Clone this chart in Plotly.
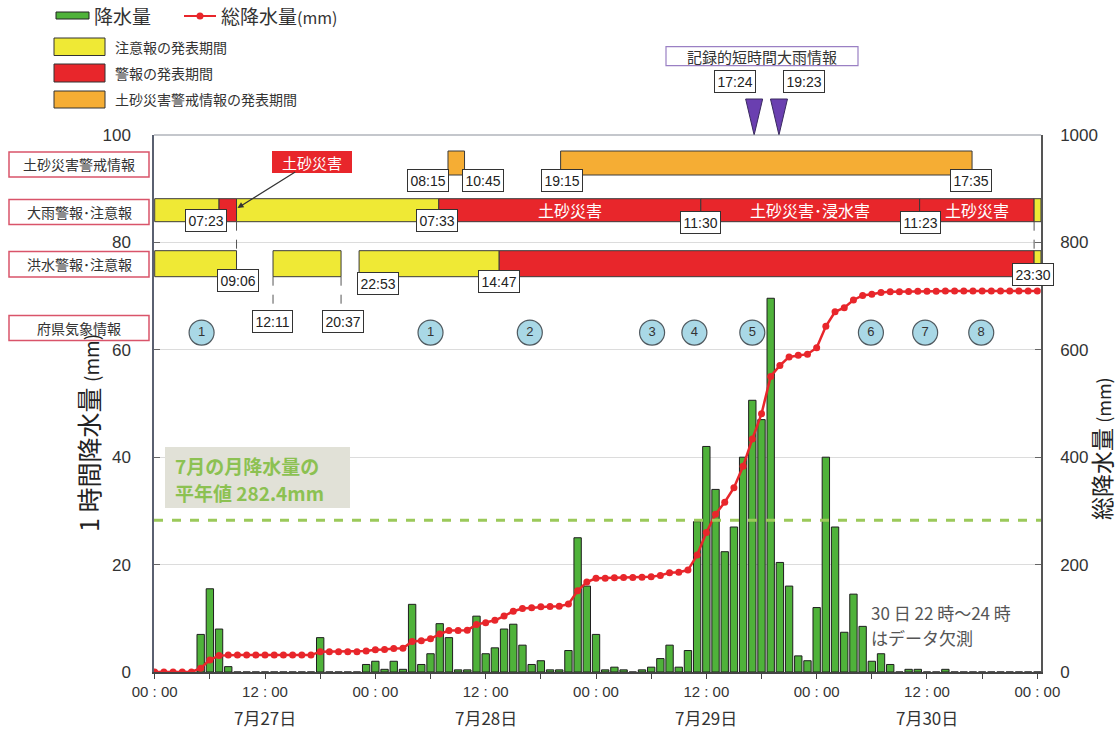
import plotly.graph_objects as go

# ---------------- data ----------------
hours = list(range(97))  # 0 = 7/27 00:00 ... 96 = 7/31 00:00
rain = [0, 0, 0, 0, 0, 7.0, 15.5, 8.0, 1.0,
        0, 0, 0, 0, 0, 0, 0, 0, 0, 6.4, 0, 0, 0, 0,
        1.4, 2.0, 0.5, 2.0, 0.5, 12.6, 1.4, 3.4, 9.0, 6.4, 0.4, 0.4,
        10.4, 3.4, 4.5, 8.0, 8.9, 5.0, 1.4, 2.1, 0.4, 0.4, 4.0, 25.0, 16.0, 7.0,
        0.4, 0.9, 0.4, 0, 0.4, 0.9, 2.5, 5.0, 0.9, 4.0, 28.0, 42.0, 34.0, 22.4,
        27.0, 40.0, 50.6, 47.0, 69.6, 20.4, 16.0, 3.0, 2.1, 12.0, 40.0, 27.0, 7.4,
        14.5, 8.5, 2.0, 3.4, 1.4, 0, 0.5, 0.5, 0, 0, 0.5,
        0, 0, 0, 0, 0, 0, 0, 0, 0, 0]
cum = [0, 0, 0, 0, 0, 7.0, 22.5, 30.5, 31.5,
       31.5, 31.5, 31.5, 31.5, 31.5, 31.5, 31.5, 31.5, 31.5, 37.9, 37.9, 37.9, 37.9, 37.9,
       39.3, 41.3, 41.8, 43.8, 44.3, 56.9, 58.3, 61.7, 70.7, 77.1, 77.5, 77.9,
       88.3, 91.7, 96.2, 104.2, 113.1, 118.1, 119.5, 121.6, 122.0, 122.4, 126.4, 151.4, 167.4, 174.4,
       174.8, 175.7, 176.1, 176.1, 176.5, 177.4, 179.9, 184.9, 185.8, 189.8, 217.8, 259.8, 293.8, 316.2,
       343.2, 383.2, 433.8, 480.8, 550.4, 570.8, 586.8, 589.8, 591.9, 603.9, 643.9, 670.9, 678.3,
       692.8, 701.3, 703.3, 706.7, 708.1, 708.1, 708.6, 709.1, 709.1, 709.1, 709.6,
       709.6, 709.6, 709.6, 709.6, 709.6, 709.6, 709.6, 709.6, 709.6, 709.6]
monthly_normal = 282.4

tick_hours = [0, 6, 12, 18, 24, 30, 36, 42, 48, 54, 60, 66, 72, 78, 84, 90, 96]
tick_text = ['00 : 00', '', '12 : 00', '', '00 : 00', '', '12 : 00', '', '00 : 00', '',
             '12 : 00', '', '00 : 00', '', '12 : 00', '', '00 : 00']
date_hours = [12, 36, 60, 84]
date_text = ['7月27日', '7月28日', '7月29日', '7月30日']

# warning periods (hours from 7/27 00:00)
dosha_start = [31.9, 44.15]
dosha_end = [33.7, 88.9]
ooame_start = [0, 7.0, 8.9, 30.9, 59.4, 83.2, 95.65]
ooame_end = [7.0, 8.9, 30.9, 59.4, 83.2, 95.65, 96.4]
ooame_level = ['注意報', '警報', '注意報', '警報', '警報', '警報', '注意報']
ooame_text = ['', '', '', '土砂災害', '土砂災害･浸水害', '土砂災害', '']
kozui_start = [0, 12.87, 22.23, 37.47, 95.65]
kozui_end = [8.9, 20.27, 37.47, 95.65, 96.4]
kozui_level = ['注意報', '注意報', '注意報', '警報', '注意報']

info_hours = [5.1, 30.0, 40.8, 54.1, 58.7, 65.0, 77.9, 83.8, 89.9]
info_nums = ['1', '1', '2', '3', '4', '5', '6', '7', '8']

record_hours = [65.2, 67.9]
record_text = ['17:24', '19:23']

# ---------------- geometry helpers ----------------
W, H = 1120, 731
L, R, T, B = 154, 1041, 135, 672
XMIN, XMAX = -0.076, 96.4


def PX(xp):
    return (xp - L) / (R - L)


def PY(yp):
    return (B - yp) / (B - T)


def HX(h):
    return (h - XMIN) / (XMAX - XMIN)


def HPX(h):
    return L + HX(h) * (R - L)


JP = 'Noto Sans CJK JP'
LAT = 'Liberation Sans, Arial'
YEL, RED, ORA = '#efe935', '#e8262b', '#f5ad34'
level_color = {'注意報': YEL, '警報': RED}

fig = go.Figure()
fig.add_trace(go.Bar(x=hours, y=rain, width=0.8,
                     marker=dict(color='#4fb23a', line=dict(color='#1e1e1e', width=1)),
                     name='降水量'))
fig.add_trace(go.Scatter(x=hours, y=cum, yaxis='y2', mode='lines+markers',
                         line=dict(color='#e8262b', width=2.5),
                         marker=dict(color='#e8262b', size=7), name='総降水量'))
fig.add_trace(go.Scatter(x=info_hours, y=[63.2] * len(info_hours), mode='markers+text',
                         text=info_nums, textposition='middle center',
                         textfont=dict(family=LAT, size=13, color='#333'),
                         marker=dict(size=25, color='#a9d8e6', line=dict(color='#505a60', width=1.2)),
                         cliponaxis=False))

shapes = []
ann = []


def note(x, y, text, xref='paper', yref='paper', xanchor='center', yanchor='middle', **kw):
    d = dict(x=x, y=y, xref=xref, yref=yref, text=text, showarrow=False,
             xanchor=xanchor, yanchor=yanchor)
    d.update(kw)
    ann.append(d)


# monthly normal dashed line
shapes.append(dict(type='line', xref='paper', yref='y2', x0=0, x1=1, y0=monthly_normal, y1=monthly_normal,
                   line=dict(color='#9bc95a', width=3, dash='dash'), layer='above'))

# rows
ROW_D = (151, 175)
ROW_O = (198.7, 221.7)
ROW_K = (250.7, 276.7)


def row_rect(h0, h1, row, color):
    shapes.append(dict(type='rect', xref='x', yref='paper', x0=h0, x1=h1,
                       y0=PY(row[1]), y1=PY(row[0]), fillcolor=color,
                       line=dict(color='#3a3a3a', width=1), layer='above'))


for s, e in zip(dosha_start, dosha_end):
    row_rect(s, e, ROW_D, ORA)
for s, e, lv, tx in zip(ooame_start, ooame_end, ooame_level, ooame_text):
    row_rect(s, e, ROW_O, level_color[lv])
    if tx:
        note((s + e) / 2, PY((ROW_O[0] + ROW_O[1]) / 2), tx, xref='x',
             font=dict(family=JP, size=16, color='white'))
for s, e, lv in zip(kozui_start, kozui_end, kozui_level):
    row_rect(s, e, ROW_K, level_color[lv])

# dashed connectors
for h, y0, y1 in [(8.9, 221.7, 250.7), (12.87, 276.7, 313), (20.27, 276.7, 313), (95.65, 221.7, 250.7)]:
    shapes.append(dict(type='line', xref='x', yref='paper', x0=h, x1=h, y0=PY(y0), y1=PY(y1),
                       line=dict(color='#555', width=1, dash='dash'), layer='above'))

# time labels
time_labels = [('07:23', 206, 220), ('09:06', 238, 280), ('12:11', 272, 321), ('20:37', 342.5, 321),
               ('22:53', 378, 283.5), ('07:33', 437, 220), ('08:15', 428, 180), ('10:45', 483, 180),
               ('14:47', 498.7, 281.7), ('19:15', 562, 180), ('11:30', 700, 222), ('11:23', 920.5, 222),
               ('17:35', 971, 180), ('23:30', 1033, 274)]
for tx, xp, yp in time_labels:
    note(PX(xp), PY(yp), tx, font=dict(family=LAT, size=14, color='#222'), bgcolor='white',
         bordercolor='#333', borderwidth=1, borderpad=2.5)

# callout
ann.append(dict(x=PX(237.5), y=PY(208), xref='paper', yref='paper', text='土砂災害', showarrow=True,
                ax=74.5, ay=-46.5, bgcolor=RED, bordercolor=RED, borderpad=1, width=76, height=18,
                xanchor='center', yanchor='middle',
                font=dict(family=JP, size=15, color='white'), arrowcolor='#333', arrowhead=2,
                arrowwidth=1.2, arrowsize=1))

# left row labels
for tx, y0, y1 in [('土砂災害警戒情報', 152, 177), ('大雨警報･注意報', 199.5, 224.5),
                   ('洪水警報･注意報', 251.5, 277), ('府県気象情報', 315.5, 340.5)]:
    shapes.append(dict(type='rect', xref='paper', yref='paper', x0=PX(9), x1=PX(149), y0=PY(y1), y1=PY(y0),
                       fillcolor='white', line=dict(color='#d9546a', width=1.5)))
    note(PX(79), PY((y0 + y1) / 2), tx, font=dict(family=JP, size=14, color='#333'))

# record heavy rain info
shapes.append(dict(type='rect', xref='paper', yref='paper', x0=PX(666), x1=PX(858), y0=PY(65.7), y1=PY(46.7),
                   fillcolor='white', line=dict(color='#9a80c4', width=1.2)))
note(PX(762), PY(56.2), '記録的短時間大雨情報', font=dict(family=JP, size=15, color='#333'))
for h, tx, lx in zip(record_hours, record_text, [734.6, 804]):
    cx = HPX(h)
    shapes.append(dict(type='path', xref='paper', yref='paper',
                       path='M %f,%f L %f,%f L %f,%f Z' % (PX(cx - 8.5), PY(99), PX(cx + 8.5), PY(99), PX(cx), PY(135)),
                       fillcolor='#6a3fb0', line=dict(color='#3a2a60', width=1)))
    note(PX(lx), PY(82), tx, font=dict(family=LAT, size=14, color='#222'), bgcolor='white',
         bordercolor='#333', borderwidth=1, borderpad=2.5)

# top border
shapes.append(dict(type='line', xref='paper', yref='paper', x0=0, x1=1, y0=1, y1=1,
                   line=dict(color='#8a8f99', width=1.2)))

# legend
shapes.append(dict(type='rect', xref='paper', yref='paper', x0=PX(56), x1=PX(89), y0=PY(19), y1=PY(12),
                   fillcolor='#4fb23a', line=dict(color='#222', width=1)))
note(PX(92), PY(16), '降水量', xanchor='left', font=dict(family=JP, size=19, color='#333'))
shapes.append(dict(type='line', xref='paper', yref='paper', x0=PX(184), x1=PX(216), y0=PY(16), y1=PY(16),
                   line=dict(color=RED, width=2)))
shapes.append(dict(type='circle', xref='paper', yref='paper', x0=PX(196.5), x1=PX(203.5), y0=PY(19.5), y1=PY(12.5),
                   fillcolor=RED, line=dict(color=RED, width=0)))
note(PX(219), PY(16), '総降水量<span style="font-size:16px">(mm)</span>', xanchor='left',
     font=dict(family=JP, size=19, color='#333'))
for tx, col, y0, y1 in [('注意報の発表期間', YEL, 38, 55.5), ('警報の発表期間', RED, 64, 82),
                        ('土砂災害警戒情報の発表期間', ORA, 91, 108)]:
    shapes.append(dict(type='rect', xref='paper', yref='paper', x0=PX(54), x1=PX(105), y0=PY(y1), y1=PY(y0),
                       fillcolor=col, line=dict(color='#333', width=1)))
    note(PX(113), PY((y0 + y1) / 2), tx, xanchor='left', font=dict(family=JP, size=14, color='#333'))

# normal value note
shapes.append(dict(type='rect', xref='paper', yref='paper', x0=PX(165), x1=PX(350), y0=PY(508), y1=PY(447),
                   fillcolor='#e1e1d7', line=dict(width=0), layer='above'))
note(PX(173), PY(465), '<b>7月の月降水量の</b>', xanchor='left',
     font=dict(family=JP, size=19, color='#8cc152'))
note(PX(173), PY(492), '<b>平年値 282.4mm</b>', xanchor='left',
     font=dict(family=JP, size=19, color='#8cc152'))

# missing data note
note(PX(869), PY(612), '30 日 22 時～24 時', xanchor='left', font=dict(family=JP, size=17, color='#555'))
note(PX(869), PY(637), 'はデータ欠測', xanchor='left', font=dict(family=JP, size=17, color='#555'))

# dates
for h, tx in zip(date_hours, date_text):
    note(h, PY(717), tx, xref='x', font=dict(family=JP, size=17, color='#333'))

# axis titles
note(PX(88), PY(433), '1 時間降水量 <span style="font-size:19px">(mm)</span>', textangle=-90,
     font=dict(family=JP, size=25, color='#222'))
note(PX(1101), PY(449), '総降水量 <span style="font-size:18px">(mm)</span>', textangle=-90,
     font=dict(family=JP, size=23, color='#222'))

fig.update_layout(
    width=W, height=H, margin=dict(l=L, r=W - R, t=T, b=H - B),
    plot_bgcolor='white', paper_bgcolor='white', showlegend=False,
    shapes=shapes, annotations=ann,
    xaxis=dict(range=[XMIN, XMAX], tickmode='array', tickvals=tick_hours, ticktext=tick_text,
               ticks='outside', ticklen=5, tickcolor='#444', showgrid=False, zeroline=False,
               showline=True, linecolor='#444', linewidth=1.5,
               tickfont=dict(family=LAT, size=15, color='#333')),
    yaxis=dict(range=[0, 100], tickvals=[0, 20, 40, 60, 80, 100], ticks='inside', ticklen=6,
               tickcolor='#666', showgrid=True, gridcolor='#dcdcdc', gridwidth=1, zeroline=False,
               showline=True, linecolor='#5a6070', linewidth=1.5, ticklabelstandoff=18,
               tickfont=dict(family=LAT, size=17, color='#333')),
    yaxis2=dict(range=[0, 1000], tickvals=[0, 200, 400, 600, 800, 1000], overlaying='y', side='right',
                ticks='inside', ticklen=6, tickcolor='#666', showgrid=False, zeroline=False,
                showline=True, linecolor='#555', linewidth=1.5, ticklabelstandoff=14,
                tickfont=dict(family=LAT, size=17, color='#333')),
)

fig.write_html('out.html', config={'displayModeBar': False},
               post_script="document.body.style.margin='0';document.body.style.overflow='hidden';")
